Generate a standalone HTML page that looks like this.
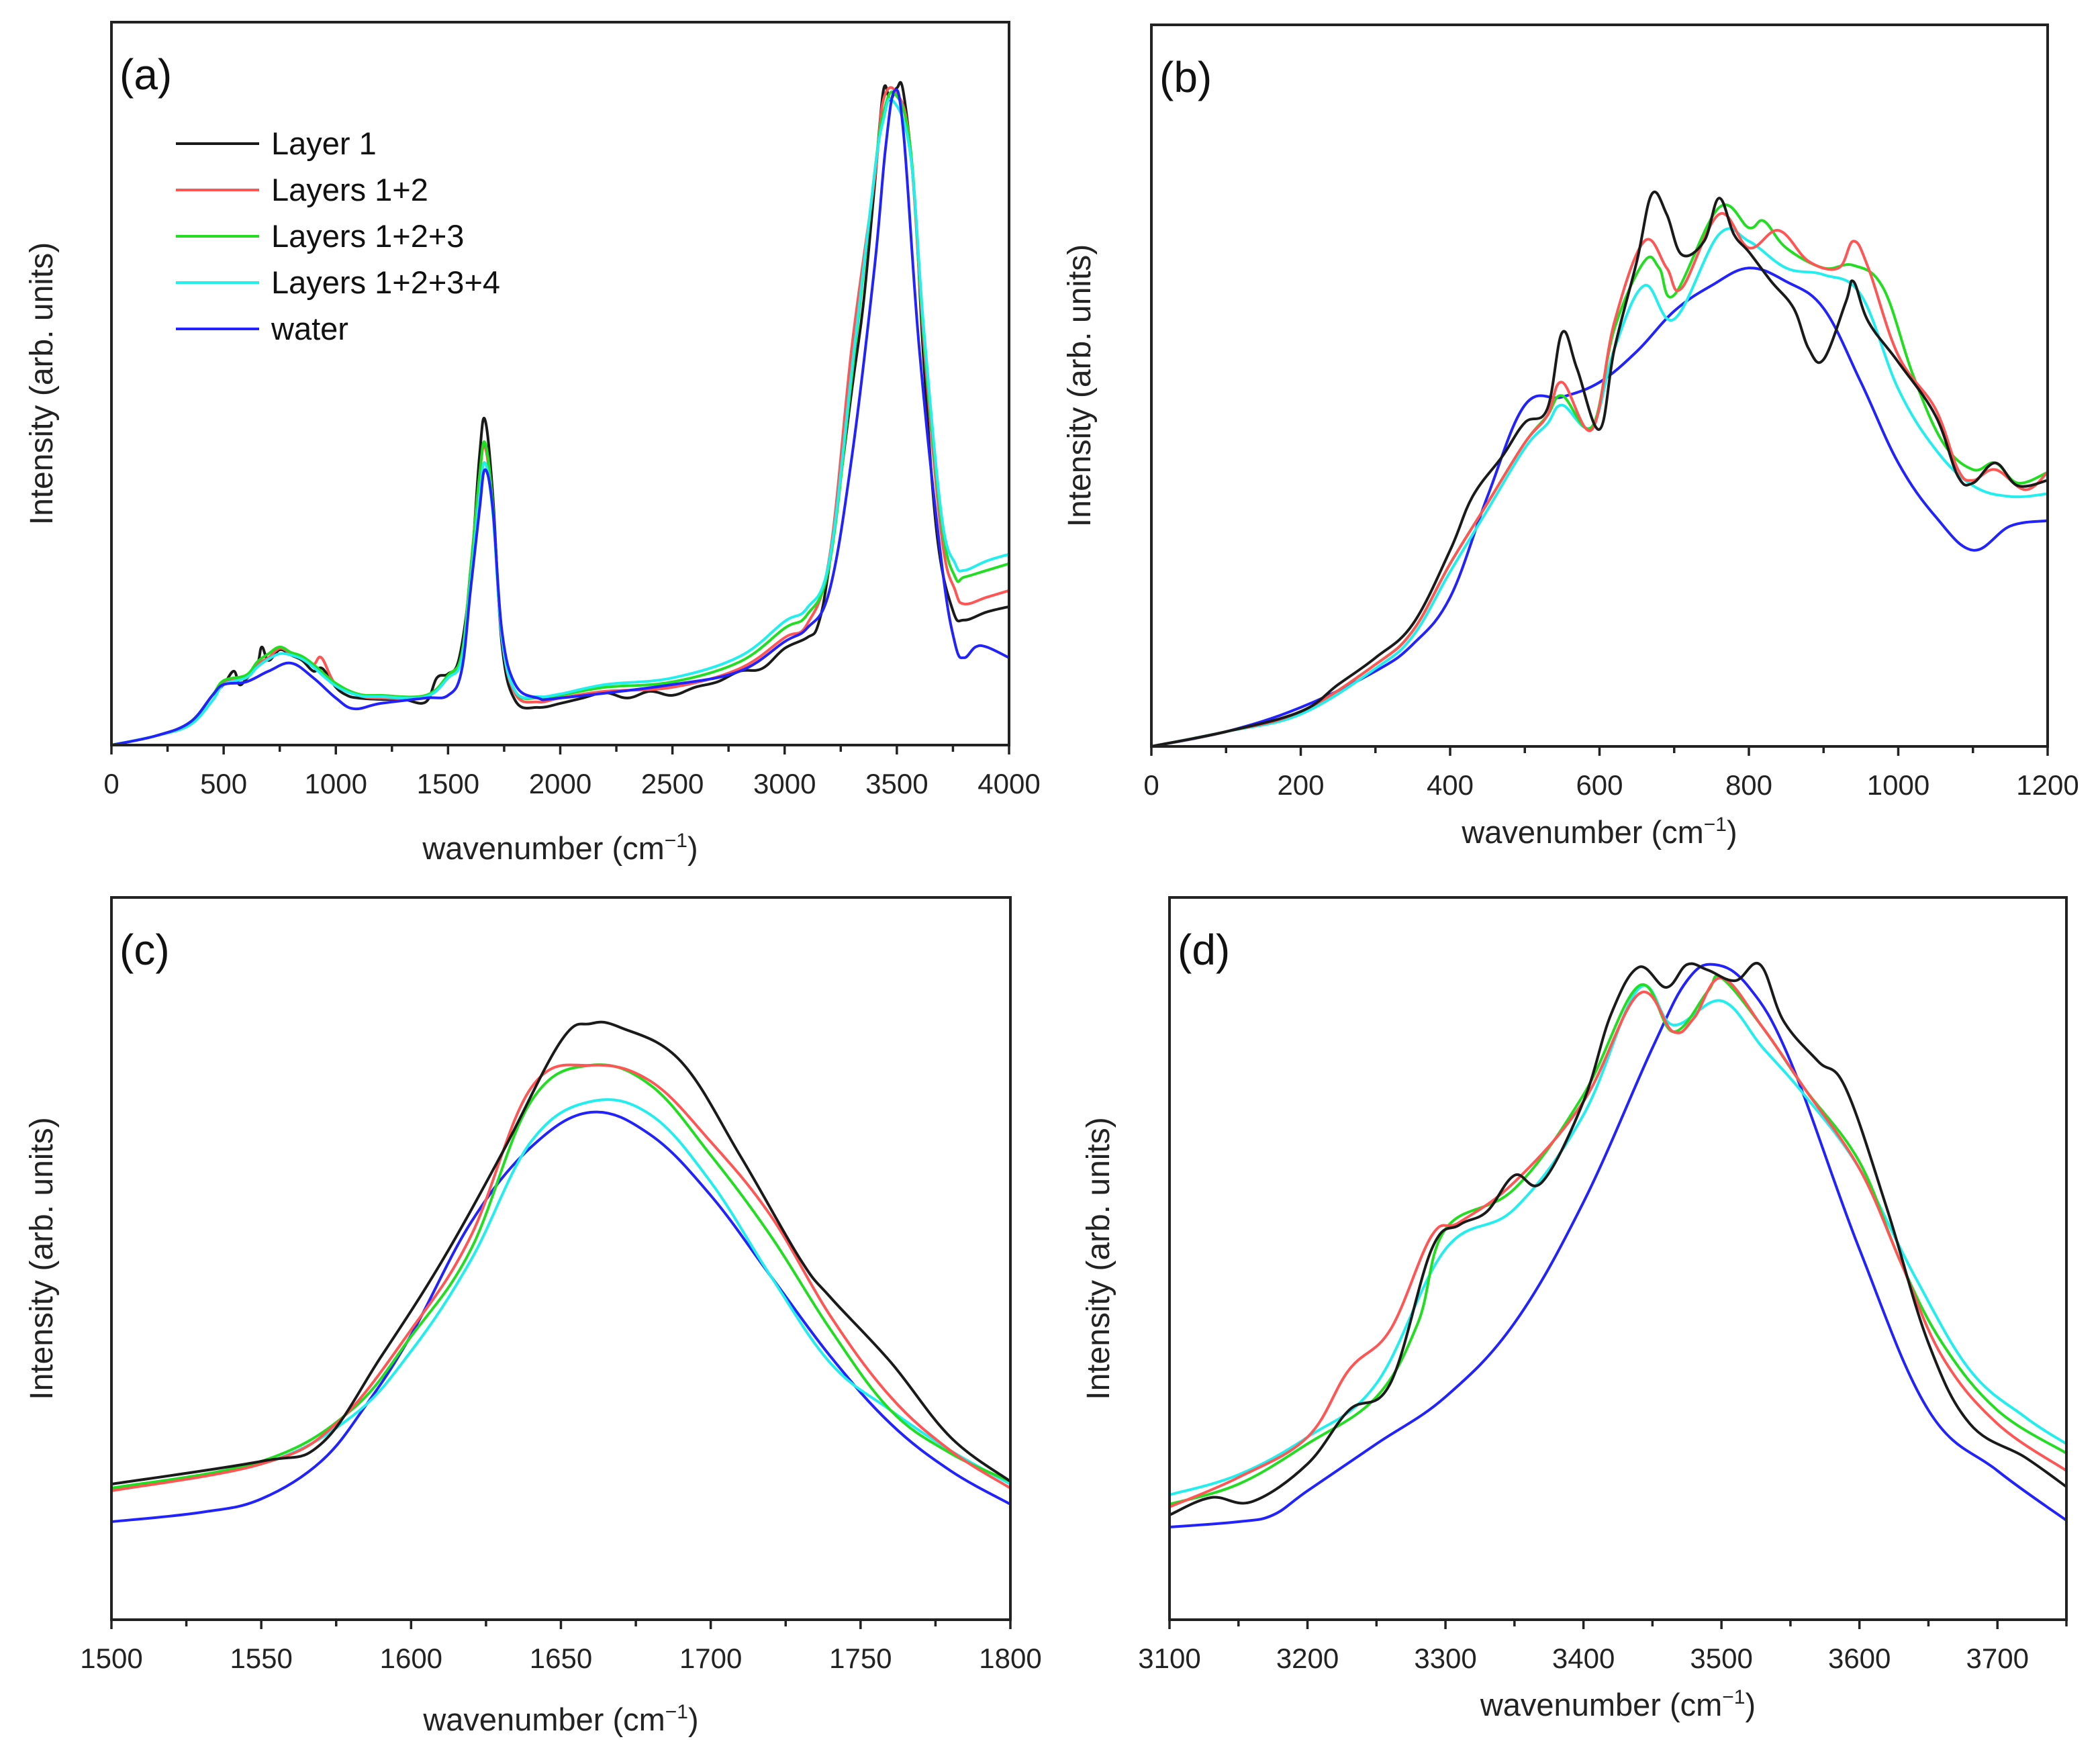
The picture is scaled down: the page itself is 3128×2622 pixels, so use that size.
<!DOCTYPE html>
<html><head><meta charset="utf-8">
<style>
html,body{margin:0;padding:0;background:#fff;}
svg{display:block;font-family:"Liberation Sans",sans-serif;}
</style></head>
<body>
<svg id="chart" width="3128" height="2622" viewBox="0 0 3128 2622" xmlns="http://www.w3.org/2000/svg"></svg>
<script>
// ---------- DATA (intensity in arbitrary units) ----------
const seriesNames = ["Layer 1","Layers 1+2","Layers 1+2+3","Layers 1+2+3+4","water"];
const seriesKeys = ["layer1","layers12","layers123","layers1234","water"];

// Panel (a): 0-4000 cm-1
const aLayer1X = [0,200,350,450,500,545,570,600,650,670,700,750,800,850,900,940,1000,1050,1100,1200,1300,1400,1450,1500,1550,1600,1640,1665,1700,1740,1800,1900,2000,2100,2200,2300,2400,2500,2600,2700,2800,2900,3000,3100,3150,3200,3300,3350,3400,3440,3470,3500,3530,3580,3620,3680,3750,3800,3900,4000];
const aLayer1Y = [0,7,17,37,45,55,45,49,60,73,63,71,67,63,55,57,43,37,35,34,34,32,50,53,65,125,215,242,185,75,33,28,31,35,39,35,40,37,43,47,55,57,72,80,90,135,265,327,415,487,480,489,485,405,285,155,100,93,99,103];
const aLayers12X = [0,200,350,450,500,600,650,700,750,800,850,900,936,1000,1100,1200,1400,1500,1560,1600,1640,1665,1700,1740,1800,1900,2000,2200,2500,2800,3000,3100,3200,3300,3400,3440,3500,3560,3620,3700,3760,3800,3900,4000];
const aLayers12Y = [0,7,17,37,47,50,60,65,72,68,65,60,65,45,37,35,36,50,65,130,200,222,175,80,38,32,35,40,43,57,80,90,140,297,420,480,485,445,300,155,115,105,110,115];
const aLayers123X = [0,200,350,450,500,600,650,700,750,800,850,900,1000,1100,1200,1400,1500,1560,1600,1640,1665,1700,1740,1800,1900,2000,2200,2500,2800,3000,3100,3200,3300,3400,3440,3490,3560,3620,3700,3760,3800,3900,4000];
const aLayers123Y = [0,7,17,37,48,52,62,68,73,69,66,60,46,38,37,37,52,67,130,200,225,178,82,40,35,37,43,47,62,87,97,135,275,425,470,485,445,305,165,125,125,130,135];
const aLayers1234X = [0,200,350,450,500,600,650,700,750,800,850,900,1000,1100,1200,1400,1500,1560,1600,1640,1665,1700,1740,1800,1900,2000,2200,2500,2800,3000,3100,3200,3300,3400,3440,3480,3560,3620,3700,3760,3800,3900,4000];
const aLayers1234Y = [0,7,15,33,45,50,58,64,68,67,64,58,44,37,36,36,50,63,120,185,210,172,80,40,36,38,45,50,66,92,102,138,280,425,465,480,440,310,170,135,130,137,142];
const aWaterX = [0,200,350,450,500,600,700,800,900,1000,1080,1200,1400,1500,1560,1600,1640,1665,1700,1740,1800,1900,2000,2500,2800,3000,3100,3200,3300,3400,3450,3490,3530,3600,3700,3760,3800,3850,3900,4000];
const aWaterY = [0,7,17,37,45,47,55,61,50,35,27,31,35,37,55,115,175,205,175,85,45,35,35,45,55,77,87,115,215,355,445,487,455,295,135,75,65,73,73,65];

// Panel (b): 0-1200 cm-1
const bLayer1X = [0,100,200,250,300,350,400,430,470,500,530,550,570,600,620,650,670,690,710,740,760,780,800,830,860,880,900,930,940,960,1000,1050,1080,1100,1130,1160,1200];
const bLayer1Y = [0,11,26,46,66,91,146,186,216,241,251,308,281,236,296,361,411,396,366,376,408,381,368,346,326,296,288,331,346,316,286,246,201,196,211,194,198];
const bLayers12X = [0,100,200,300,350,400,450,500,530,550,590,620,660,690,710,760,800,840,880,920,940,960,1000,1050,1080,1100,1130,1170,1200];
const bLayers12Y = [0,11,26,61,86,136,181,226,246,271,236,316,376,356,341,396,371,384,361,356,376,356,291,251,206,198,206,191,204];
const bLayers123X = [0,100,200,300,350,400,450,500,530,550,590,620,660,680,700,760,800,820,850,900,940,980,1020,1060,1100,1130,1160,1200];
const bLayers123Y = [0,11,26,61,86,136,181,226,246,261,238,311,361,356,336,401,386,391,371,356,358,341,276,226,206,211,196,204];
const bLayers1234X = [0,100,200,300,350,400,450,500,530,550,590,620,660,700,760,800,850,900,950,1000,1050,1100,1150,1200];
const bLayers1234Y = [0,11,24,58,82,130,176,222,240,254,238,296,343,318,381,376,356,351,336,266,221,194,186,188];
const bWaterX = [0,100,200,300,350,400,450,500,550,600,650,700,750,800,850,900,950,1000,1050,1100,1150,1200];
const bWaterY = [0,11,29,56,76,111,186,254,260,271,294,324,343,356,346,326,271,211,171,146,164,168];

// Panel (c): 1500-1800 cm-1
const cLayer1X = [1500,1550,1570,1590,1610,1630,1650,1660,1670,1690,1710,1730,1740,1760,1780,1800];
const cLayer1Y = [101,118,131,196,266,346,431,444,441,416,345,268,240,192,136,103];
const cLayers12X = [1500,1550,1575,1600,1620,1640,1660,1680,1700,1720,1740,1760,1780,1800];
const cLayers12Y = [96,116,146,216,286,396,413,401,356,301,226,166,126,98];
const cLayers123X = [1500,1550,1580,1600,1620,1640,1660,1680,1700,1720,1740,1760,1780,1800];
const cLayers123Y = [98,118,156,211,276,386,413,398,346,286,216,156,124,103];
const cLayers1234X = [1500,1550,1580,1600,1620,1640,1660,1680,1700,1720,1740,1760,1780,1800];
const cLayers1234Y = [98,116,151,200,268,356,386,376,326,256,191,156,126,101];
const cWaterX = [1500,1530,1550,1570,1585,1600,1620,1640,1660,1680,1700,1720,1740,1760,1780,1800];
const cWaterY = [73,80,90,118,160,212,296,352,378,361,316,256,196,146,111,86];

// Panel (d): 3100-3750 cm-1
const dLayer1X = [3100,3130,3160,3200,3230,3260,3290,3310,3330,3350,3370,3400,3420,3440,3460,3475,3490,3510,3528,3545,3570,3590,3620,3650,3680,3720,3750];
const dLayer1Y = [78,91,88,116,156,176,276,294,304,331,326,386,451,486,471,488,484,476,488,446,416,396,306,206,146,121,99];
const dLayers12X = [3100,3150,3200,3230,3260,3290,3310,3350,3400,3440,3465,3480,3500,3530,3560,3600,3630,3660,3700,3750];
const dLayers12Y = [84,106,136,186,216,286,296,326,386,466,438,448,478,441,396,336,266,196,146,111];
const dLayers123X = [3100,3150,3200,3250,3280,3300,3350,3400,3440,3465,3490,3500,3530,3560,3600,3630,3660,3700,3750];
const dLayers123Y = [86,101,131,166,221,291,321,391,472,438,468,478,441,396,341,266,206,156,124];
const dLayers1234X = [3100,3150,3200,3250,3300,3350,3400,3440,3465,3500,3530,3560,3600,3640,3680,3720,3750];
const dLayers1234Y = [93,108,136,176,276,306,376,470,443,461,426,391,336,256,186,151,131];
const dWaterX = [3100,3150,3175,3200,3250,3300,3350,3400,3450,3475,3495,3520,3550,3600,3650,3700,3750];
const dWaterY = [69,73,78,96,131,166,221,311,426,476,488,471,416,276,156,111,74];

const aTicks = [0,500,1000,1500,2000,2500,3000,3500,4000];
const bTicks = [0,200,400,600,800,1000,1200];
const cTicks = [1500,1550,1600,1650,1700,1750,1800];
const dTicks = [3100,3200,3300,3400,3500,3600,3700];

// ---------- RENDERING ----------
const NS = "http://www.w3.org/2000/svg";
const svg = document.getElementById("chart");
const colors = {layer1:"#1a1a1a", layers12:"#ff5555", layers123:"#22dd22", layers1234:"#22eeee", water:"#2222ff"};

function el(tag, attrs, parent){
  const e = document.createElementNS(NS, tag);
  for (const k in attrs) e.setAttribute(k, attrs[k]);
  (parent||svg).appendChild(e);
  return e;
}

function smoothPath(pts){
  let d = "M" + pts[0][0].toFixed(1) + "," + pts[0][1].toFixed(1);
  for (let i=0;i<pts.length-1;i++){
    const p0 = pts[Math.max(0,i-1)], p1 = pts[i], p2 = pts[i+1], p3 = pts[Math.min(pts.length-1,i+2)];
    const t = 0.18;
    const c1x = p1[0] + (p2[0]-p0[0])*t, c1y = p1[1] + (p2[1]-p0[1])*t;
    const c2x = p2[0] - (p3[0]-p1[0])*t, c2y = p2[1] - (p3[1]-p1[1])*t;
    d += " C" + c1x.toFixed(1)+","+c1y.toFixed(1)+" "+c2x.toFixed(1)+","+c2y.toFixed(1)+" "+p2[0].toFixed(1)+","+p2[1].toFixed(1);
  }
  return d;
}

function drawPanel(cfg){
  const g = el("g", {});
  
  
  const L=cfg.x0, R=cfg.x1, T=cfg.y0, B=cfg.y1;
  const xs = v => L + (v - cfg.xmin)/(cfg.xmax - cfg.xmin)*(R-L);
  const ys = v => B - v/cfg.ymax*(B-T);

  const order = ["water","layers1234","layers123","layers12","layer1"];
  const drawOrder = cfg.id==="a" ? ["layer1","layers12","layers123","layers1234","water"] : order;
  const clipId = "clip-"+cfg.id;
  const cp = el("clipPath",{id:clipId}, g);
  el("rect",{x:L,y:T-2,width:R-L,height:B-T+2},cp);
  for (const key of drawOrder){
    const X = cfg.data[key][0], Y = cfg.data[key][1];
    const pts = X.map((v,i)=>[xs(v), ys(Y[i])]);
    const p = el("path",{d:smoothPath(pts), fill:"none", stroke:colors[key], "stroke-width":4, "stroke-linejoin":"round", "clip-path":"url(#"+clipId+")"}, g);
    
    
  }

  const f = el("rect",{x:L,y:T,width:R-L,height:B-T,fill:"none",stroke:"#222","stroke-width":4}, g);
  
  

  const ticks = cfg.ticks;
  const step = ticks[1]-ticks[0];
  for (let v=cfg.xmin; v<=cfg.xmax+1e-6; v+=step/2){
    const x = xs(v);
    const major = ticks.some(t=>Math.abs(t-v)<1e-6);
    const tk = el("line",{x1:x,y1:B,x2:x,y2:B+(major?14:10),stroke:"#222","stroke-width":3.5}, g);
    
    
  }
  for (const t of ticks){
    const tl = el("text",{x:xs(t),y:B+72,"font-size":42,"text-anchor":"middle",fill:"#222"}, g);
    tl.textContent = t;
    
    
  }
  const xt = el("text",{x:(L+R)/2,y:cfg.xtitleY,"font-size":47,"text-anchor":"middle",fill:"#222"}, g);
  
  
  xt.appendChild(document.createTextNode("wavenumber (cm"));
  const sup = el("tspan",{"font-size":30,dy:-18}, xt);
  sup.textContent = "\u22121";
  const close = el("tspan",{dy:18}, xt);
  close.textContent = ")";
  const yt = el("text",{x:0,y:0,"font-size":48,"text-anchor":"middle",fill:"#222",transform:"translate("+cfg.ytitleX+","+((T+B)/2)+") rotate(-90)"}, g);
  yt.textContent = "Intensity (arb. units)";
  
  
  const pl = el("text",{x:L+12,y:T+100,"font-size":64,fill:"#111"}, g);
  pl.textContent = "(" + cfg.id + ")";
  
  
}

drawPanel({id:"a", x0:166,x1:1503,y0:33,y1:1110, xmin:0,xmax:4000, ymax:538, ticks:aTicks, xtitleY:1280, ytitleX:78,
  data:{layer1:[aLayer1X,aLayer1Y],layers12:[aLayers12X,aLayers12Y],layers123:[aLayers123X,aLayers123Y],layers1234:[aLayers1234X,aLayers1234Y],water:[aWaterX,aWaterY]}});
drawPanel({id:"b", x0:1715,x1:3050,y0:37,y1:1112, xmin:0,xmax:1200, ymax:537, ticks:bTicks, xtitleY:1256, ytitleX:1624,
  data:{layer1:[bLayer1X,bLayer1Y],layers12:[bLayers12X,bLayers12Y],layers123:[bLayers123X,bLayers123Y],layers1234:[bLayers1234X,bLayers1234Y],water:[bWaterX,bWaterY]}});
drawPanel({id:"c", x0:166,x1:1505,y0:1337,y1:2413, xmin:1500,xmax:1800, ymax:538, ticks:cTicks, xtitleY:2578, ytitleX:78,
  data:{layer1:[cLayer1X,cLayer1Y],layers12:[cLayers12X,cLayers12Y],layers123:[cLayers123X,cLayers123Y],layers1234:[cLayers1234X,cLayers1234Y],water:[cWaterX,cWaterY]}});
drawPanel({id:"d", x0:1742,x1:3078,y0:1337,y1:2413, xmin:3100,xmax:3750, ymax:538, ticks:dTicks, xtitleY:2556, ytitleX:1652,
  data:{layer1:[dLayer1X,dLayer1Y],layers12:[dLayers12X,dLayers12Y],layers123:[dLayers123X,dLayers123Y],layers1234:[dLayers1234X,dLayers1234Y],water:[dWaterX,dWaterY]}});

const lg = el("g",{});


seriesKeys.forEach((k,i)=>{
  const y = 214 + i*69;
  const ln = el("line",{x1:262,y1:y,x2:386,y2:y,stroke:colors[k],"stroke-width":4}, lg);
  
  
  const tx = el("text",{x:404,y:y+16,"font-size":47,fill:"#111"}, lg);
  tx.textContent = seriesNames[i];
  
  
});
</script>
</body></html>
